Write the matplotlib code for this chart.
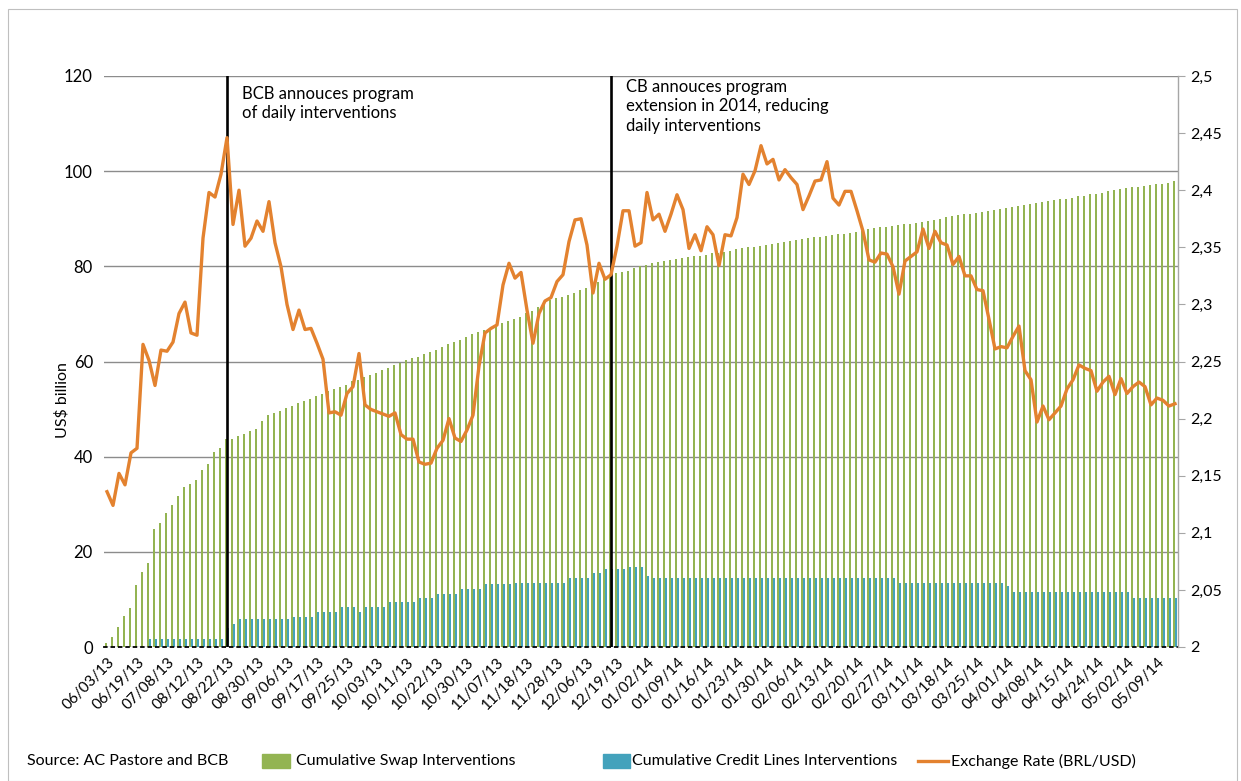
import numpy as np
import matplotlib
matplotlib.use("Agg")
import matplotlib.pyplot as plt
from matplotlib.patches import Rectangle
from matplotlib.lines import Line2D

plt.rcParams['font.family'] = ['Lato', 'DejaVu Sans']

# ---------------- data ----------------
tick_labels = ["06/03/13", "06/19/13", "07/08/13", "08/12/13", "08/22/13", "08/30/13",
               "09/06/13", "09/17/13", "09/25/13", "10/03/13", "10/11/13", "10/22/13",
               "10/30/13", "11/07/13", "11/18/13", "11/28/13", "12/06/13", "12/19/13",
               "01/02/14", "01/09/14", "01/16/14", "01/23/14", "01/30/14", "02/06/14",
               "02/13/14", "02/20/14", "02/27/14", "03/11/14", "03/18/14", "03/25/14",
               "04/01/14", "04/08/14", "04/15/14", "04/24/14", "05/02/14", "05/09/14"]
label_every = 5

swap = [0.8, 2.2, 4.1, 6.5, 8.3, 13.0, 15.8, 17.6, 24.9, 26.1, 28.2, 29.8, 31.8, 33.6,
        34.2, 35.2, 37.2, 38.4, 40.9, 41.9, 43.7, 43.7, 44.4, 44.8, 45.3, 45.8, 47.4,
        48.8, 49.1, 49.7, 50.2, 50.7, 51.2, 51.7, 52.2, 52.7,
        53.1, 53.8, 54.3, 54.7, 55.0, 55.8, 56.2, 56.8, 57.1, 57.6, 58.2, 58.7, 59.2,
        59.7, 60.3, 60.8, 61.0, 61.5, 62.0, 62.5, 63.1, 63.6, 64.1, 64.6, 65.2, 65.7,
        66.1, 66.6, 67.1, 67.6, 68.0, 68.5, 68.9, 69.4,
        70.1, 70.6, 71.5, 72.4, 72.9, 73.4, 73.6, 74.0, 74.5, 75.0, 75.5, 76.1, 76.8,
        77.8, 78.2, 78.7, 78.9, 79.1, 79.6, 80.1, 80.3, 80.6, 80.9, 81.2, 81.3, 81.5,
        81.7, 82.0, 82.2, 82.2, 82.4, 82.7, 82.9, 83.1, 83.2,
        83.6, 83.8, 84.0, 84.1, 84.3, 84.5, 84.7, 85.0, 85.2, 85.4, 85.5, 85.7, 85.9,
        86.1, 86.2, 86.3, 86.5, 86.7, 86.9, 87.1, 87.3, 87.4, 87.8, 88.0, 88.2, 88.3,
        88.5, 88.7, 88.8, 89.0, 89.2, 89.4, 89.6, 89.8, 90.0,
        90.4, 90.6, 90.7, 90.9, 91.1, 91.3, 91.4, 91.6, 91.9, 92.1, 92.3, 92.5, 92.7,
        92.9, 93.2, 93.3, 93.5, 93.7, 94.0, 94.1, 94.2, 94.4, 94.7, 94.8, 95.1, 95.3,
        95.5, 95.8, 96.0, 96.2, 96.5, 96.7, 96.7, 96.9, 97.0, 97.3, 97.4, 97.6, 97.9]

credit = [0, 0, 0, 0, 0, 0, 0,
          1.7, 1.7, 1.7, 1.7, 1.7, 1.7, 1.7, 1.7, 1.7, 1.7, 1.7, 1.7, 1.7,
          3.9, 4.9,
          5.9, 5.9, 5.9, 5.9, 5.9, 5.9, 5.9, 5.9, 5.9,
          6.4, 6.4, 6.4, 6.4,
          7.4, 7.4, 7.4, 7.4,
          8.4, 8.4, 8.4, 7.4, 8.4, 8.4, 8.4, 8.4,
          9.4, 9.4, 9.4, 9.4, 9.4,
          10.2, 10.2, 10.2,
          11.2, 11.2, 11.2, 11.2,
          12.2, 12.2, 12.2, 12.2,
          13.3, 13.3, 13.3, 13.3, 13.3,
          13.5, 13.5, 13.5, 13.5, 13.5, 13.5, 13.5, 13.5, 13.5,
          14.6, 14.6, 14.6, 14.6,
          15.6, 15.6,
          16.3, 16.3, 16.3, 16.3,
          16.9, 16.9, 16.9,
          15.0,
          14.4, 14.4, 14.4, 14.4, 14.4, 14.4, 14.4, 14.4, 14.4, 14.4,
          14.4, 14.4, 14.4, 14.4, 14.4, 14.4, 14.4, 14.4, 14.4, 14.4,
          14.4, 14.4, 14.4, 14.4, 14.4, 14.4, 14.4, 14.4, 14.4, 14.4,
          14.4, 14.4, 14.4, 14.4, 14.4, 14.4, 14.4, 14.4, 14.4, 14.4, 14.4,
          13.4, 13.4, 13.4, 13.4, 13.4, 13.4, 13.4, 13.4, 13.4,
          13.4, 13.4, 13.4, 13.4, 13.4, 13.4, 13.4, 13.4, 13.4,
          12.9,
          11.6, 11.6, 11.6, 11.6, 11.6, 11.6, 11.6, 11.6, 11.6, 11.6,
          11.6, 11.6, 11.6, 11.6, 11.6, 11.6, 11.6, 11.6, 11.6, 11.6,
          10.3, 10.3, 10.3, 10.3, 10.3, 10.3, 10.3, 10.3]

rate = [2.136, 2.124, 2.152, 2.142, 2.170, 2.174, 2.265, 2.251, 2.229, 2.260, 2.259,
        2.267, 2.292, 2.302, 2.275, 2.273, 2.358, 2.398, 2.394, 2.414, 2.446, 2.370,
        2.400, 2.351, 2.358, 2.373, 2.364, 2.390, 2.354, 2.333, 2.300, 2.278, 2.295,
        2.278, 2.279, 2.266,
        2.252, 2.205, 2.206, 2.203, 2.222, 2.228, 2.257, 2.212, 2.208, 2.206, 2.204,
        2.202, 2.205, 2.186, 2.182, 2.182, 2.162, 2.160, 2.161, 2.174, 2.181, 2.200,
        2.183, 2.180, 2.190, 2.203, 2.246, 2.275, 2.279, 2.282, 2.317, 2.336, 2.323,
        2.328,
        2.295, 2.266, 2.292, 2.303, 2.306, 2.320, 2.326, 2.355, 2.374, 2.375, 2.352,
        2.310, 2.336, 2.322, 2.326, 2.351, 2.382, 2.382, 2.351, 2.354, 2.398, 2.374,
        2.379, 2.364, 2.379, 2.396, 2.383, 2.349, 2.361, 2.347, 2.368, 2.361, 2.334,
        2.361, 2.360,
        2.376, 2.414, 2.405, 2.417, 2.439, 2.423, 2.427, 2.409, 2.418, 2.411, 2.405,
        2.383, 2.395, 2.408, 2.409, 2.425, 2.393, 2.387, 2.399, 2.399, 2.382, 2.364,
        2.339, 2.337, 2.345, 2.344, 2.333, 2.309, 2.338, 2.342, 2.346, 2.366, 2.349,
        2.364, 2.354,
        2.352, 2.335, 2.342, 2.325, 2.325, 2.313, 2.312, 2.287, 2.261, 2.263, 2.262,
        2.272, 2.281, 2.242, 2.234, 2.197, 2.211, 2.199, 2.205, 2.211, 2.226, 2.234,
        2.247, 2.244, 2.242, 2.224, 2.232, 2.237, 2.221, 2.235, 2.222, 2.228, 2.232,
        2.228, 2.212, 2.218, 2.216, 2.211, 2.213]

event_idx = [20, 84]
event_text = ["BCB annouces program\nof daily interventions",
              "CB annouces program\nextension in 2014, reducing\ndaily interventions"]

N = len(rate)
assert len(swap) == N and len(credit) == N, (len(swap), len(credit), N)

GREEN = '#93B452'
BLUE = '#43A2BC'
ORANGE = '#E3822F'
GRID = '#8C8C8C'

W, H = 1241, 781
fig = plt.figure(figsize=(W / 100, H / 100), dpi=100)
L, R, T, B = 104, 1178, 76, 647
ax = fig.add_axes([L / W, 1 - B / H, (R - L) / W, (B - T) / H])

x = np.arange(N)
ax.bar(x - 0.16, swap, width=0.32, color=GREEN, zorder=2, linewidth=0)
ax.bar(x + 0.16, credit, width=0.32, color=BLUE, zorder=2, linewidth=0)
ax.set_xlim(-0.5, N - 0.5)
ax.set_ylim(0, 120)
ax.set_yticks(np.arange(0, 121, 20))
ax.yaxis.grid(True, color=GRID, linewidth=1.0, zorder=0)
ax.set_axisbelow(True)
for s in ['top', 'left', 'right']:
    ax.spines[s].set_visible(False)
ax.spines['bottom'].set_color('black')
ax.spines['bottom'].set_linewidth(1.3)
ax.spines['bottom'].set_linestyle((0, (1.5, 2.6)))
ax.tick_params(axis='y', length=0, labelsize=12, pad=8)

pos = np.arange(0, N, label_every)[:len(tick_labels)]
ax.set_xticks(pos)
ax.set_xticklabels(tick_labels, rotation=45, ha='right', rotation_mode='anchor',
                   fontsize=11)
ax.tick_params(axis='x', length=0, pad=6)

for xi in event_idx:
    ax.axvline(xi, color='black', linewidth=1.9, zorder=5)

ax2 = ax.twinx()
ax2.plot(x, rate, color=ORANGE, linewidth=2.4, zorder=3, solid_joinstyle='round')
ax2.set_ylim(2, 2.5)
rticks = np.round(np.arange(2.0, 2.5001, 0.05), 2)
ax2.set_yticks(rticks)
ax2.set_yticklabels([('%g' % v).replace('.', ',') for v in rticks])
for s in ['top', 'left', 'bottom']:
    ax2.spines[s].set_visible(False)
ax2.spines['right'].set_color('#A6A6A6')
ax2.spines['right'].set_linewidth(1.0)
ax2.tick_params(axis='y', length=5, color='#A6A6A6', labelsize=11.5, pad=4)

# y label
fig.text(62 / W, 1 - 400 / H, 'US$ billion', rotation=90, ha='center', va='center',
         fontsize=11.5)

# annotations
fig.text(242 / W, 1 - 86 / H, event_text[0], ha='left', va='top', fontsize=12,
         linespacing=1.25)
fig.text(626 / W, 1 - 79 / H, event_text[1], ha='left', va='top', fontsize=12,
         linespacing=1.25)

# legend / source row
ly = 1 - 761 / H
fig.text(27 / W, ly, 'Source: AC Pastore and BCB', ha='left', va='center', fontsize=11.5)
fig.add_artist(Rectangle((262 / W, ly - 7 / H), 28 / W, 14 / H, color=GREEN,
                         transform=fig.transFigure))
fig.text(296 / W, ly, 'Cumulative Swap Interventions', ha='left', va='center', fontsize=11.5)
fig.add_artist(Rectangle((603 / W, ly - 7 / H), 27 / W, 14 / H, color=BLUE,
                         transform=fig.transFigure))
fig.text(632 / W, ly, 'Cumulative Credit Lines Interventions', ha='left', va='center',
         fontsize=11.5)
fig.add_artist(Line2D([918 / W, 948 / W], [ly, ly], color=ORANGE, linewidth=2.4,
                      transform=fig.transFigure))
fig.text(951 / W, ly, 'Exchange Rate (BRL/USD)', ha='left', va='center', fontsize=11.5)

# chart area border
fig.add_artist(Rectangle((8 / W, 0.5 / H), (W - 12) / W, (H - 9) / H, fill=False,
                         edgecolor='#BFBFBF', linewidth=0.8, transform=fig.transFigure))

fig.savefig('out.png', dpi=100)
